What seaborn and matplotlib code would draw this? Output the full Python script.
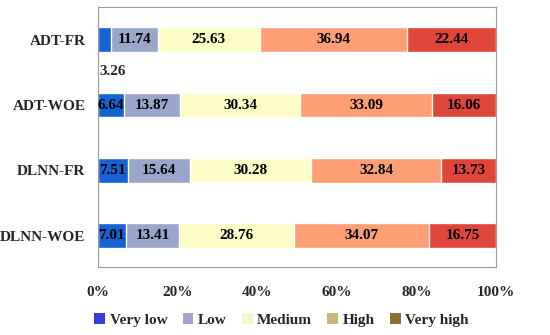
import pandas as pd
import numpy as np
import matplotlib
matplotlib.use("Agg")
import matplotlib.pyplot as plt
from matplotlib.patches import Patch
import seaborn as sns

models = ["ADT-FR", "ADT-WOE", "DLNN-FR", "DLNN-WOE"]
levels = ["Very low", "Low", "Medium", "High", "Very high"]
very_low = [3.26, 6.64, 7.51, 7.01]
low = [11.74, 13.87, 15.64, 13.41]
medium = [25.63, 30.34, 30.28, 28.76]
high = [36.94, 33.09, 32.84, 34.07]
very_high = [22.44, 16.06, 13.73, 16.75]
ticks = [0, 20, 40, 60, 80, 100]

bar_colors = ["#1562d4", "#9aa6c9", "#fdfdc8", "#fd9e74", "#e0453a"]
legend_colors = ["#3b3bd6", "#a3a3d2", "#f6f6cc", "#c9b978", "#8a7033"]

df = pd.DataFrame({"model": models, "Very low": very_low, "Low": low,
                   "Medium": medium, "High": high, "Very high": very_high})
cum = df[levels].cumsum(axis=1)
cum["model"] = df["model"]

sns.set_style("white")
plt.rcParams["font.family"] = ["Liberation Serif", "DejaVu Serif"]
plt.rcParams["font.weight"] = "bold"

fig = plt.figure(figsize=(5.5, 3.35), dpi=100)
ax = fig.add_axes([0.178, 0.203, 0.724, 0.776])

# stacked bars: draw cumulative totals from the right-most level backwards
for lvl, col in zip(levels[::-1], bar_colors[::-1]):
    sns.barplot(data=cum, x=lvl, y="model", color=col, width=0.38,
                orient="h", ax=ax, saturation=1)

for i, m in enumerate(models):
    start = 0
    for lvl in levels:
        v = df.loc[i, lvl]
        if v < 5:
            ax.text(start + 0.5, i + 0.48, f"{v:.2f}", ha="left", va="center",
                    fontsize=11, fontweight="bold")
        else:
            ax.text(start + v / 2, i, f"{v:.2f}", ha="center", va="center",
                    fontsize=11, fontweight="bold", color="black")
        start += v

ax.set_xlim(0, 100)
ax.set_ylim(3.48, -0.5)
ax.set_xticks(ticks)
ax.set_xticklabels([f"{t}%" for t in ticks], fontsize=11, fontweight="bold")
ax.set_yticklabels(models, fontsize=11, fontweight="bold")
ax.set_xlabel("")
ax.set_ylabel("")
ax.tick_params(axis="x", length=0, pad=14)
ax.tick_params(axis="y", length=0, pad=9)
for s in ax.spines.values():
    s.set_color("#9a9a9a")
    s.set_linewidth(0.8)

handles = [Patch(facecolor=c, edgecolor="none", label=l)
           for c, l in zip(legend_colors, levels)]
fig.legend(handles=handles, loc="center", bbox_to_anchor=(0.512, 0.045),
           ncol=5, frameon=False, handlelength=0.7, handleheight=0.7,
           handletextpad=0.3, columnspacing=1.0,
           prop={"size": 11, "weight": "bold"})

fig.savefig("out.png", dpi=100)
